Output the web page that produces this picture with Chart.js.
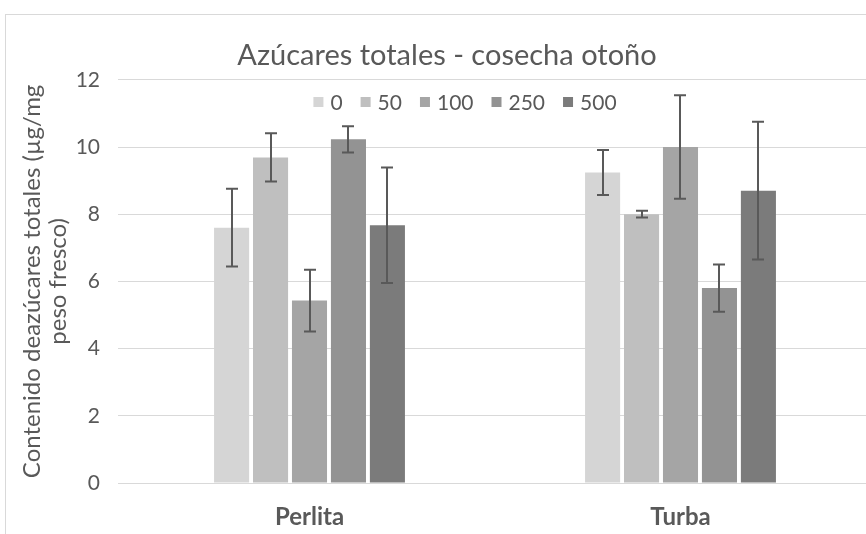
<!DOCTYPE html>
<html>
<head>
<meta charset="utf-8">
<script src="https://cdn.jsdelivr.net/npm/chart.js@4.4.1/dist/chart.umd.min.js"></script>
<style>
  html, body { margin: 0; padding: 0; background: #fff; overflow: hidden; }
  /* chart is a bit wider than the window; its right edge is cut off like the source */
  #wrap { width: 894px; height: 534px; position: relative; }
</style>
</head>
<body>
<div id="wrap"><canvas id="sugarChart"></canvas></div>
<script>
  'use strict';

  const categories = ['Perlita', 'Turba'];
  const seriesLabels = ['0', '50', '100', '250', '500'];
  const seriesColors = ['#d5d5d5', '#bfbfbf', '#a5a5a5', '#939393', '#7b7b7b'];

  const values0 = [7.6, 9.24];
  const values50 = [9.69, 8.0];
  const values100 = [5.43, 10.0];
  const values250 = [10.23, 5.8];
  const values500 = [7.67, 8.7];

  const errors0 = [1.16, 0.67];
  const errors50 = [0.72, 0.1];
  const errors100 = [0.92, 1.54];
  const errors250 = [0.39, 0.7];
  const errors500 = [1.72, 2.05];

  const yTicks = [0, 2, 4, 6, 8, 10, 12];

  const seriesValues = [values0, values50, values100, values250, values500];
  const seriesErrors = [errors0, errors50, errors100, errors250, errors500];

  const textColor = '#595959';
  const gridColor = '#d9d9d9';
  const fontFamily = "Lato, 'Open Sans', sans-serif";

  // white background + outer chart frame
  const framePlugin = {
    id: 'frame',
    beforeDraw(chart) {
      const ctx = chart.ctx;
      ctx.save();
      ctx.fillStyle = '#fff';
      ctx.fillRect(0, 0, chart.width, chart.height);
      ctx.strokeStyle = gridColor;
      ctx.lineWidth = 1;
      ctx.strokeRect(5.5, 14.5, chart.width + 20, chart.height + 20);
      ctx.restore();
    }
  };

  // error bars
  const errorBarPlugin = {
    id: 'errorBars',
    afterDatasetsDraw(chart) {
      const ctx = chart.ctx;
      const y = chart.scales.y;
      ctx.save();
      ctx.strokeStyle = '#595959';
      ctx.lineWidth = 2;
      chart.data.datasets.forEach((ds, i) => {
        const meta = chart.getDatasetMeta(i);
        meta.data.forEach((bar, j) => {
          const err = ds.errors[j];
          const top = y.getPixelForValue(ds.data[j] + err);
          const bottom = y.getPixelForValue(ds.data[j] - err);
          const x = Math.round(bar.x);
          ctx.beginPath();
          ctx.moveTo(x, top);
          ctx.lineTo(x, bottom);
          ctx.moveTo(x - 6, top);
          ctx.lineTo(x + 6, top);
          ctx.moveTo(x - 6, bottom);
          ctx.lineTo(x + 6, bottom);
          ctx.stroke();
        });
      });
      ctx.restore();
    }
  };

  // legend sits inside the plot area, near the top
  const innerLegendPlugin = {
    id: 'innerLegend',
    afterDraw(chart) {
      const ctx = chart.ctx;
      const box = 10, textGap = 7, itemGap = 18;
      ctx.save();
      ctx.font = '21px ' + fontFamily;
      ctx.textBaseline = 'middle';
      const items = chart.data.datasets.map(ds => ({
        label: ds.label,
        color: ds.backgroundColor,
        w: box + textGap + ctx.measureText(ds.label).width
      }));
      const total = items.reduce((s, it) => s + it.w, 0) + itemGap * (items.length - 1);
      let x = 465 - total / 2;
      const cy = 102;
      items.forEach(it => {
        ctx.fillStyle = it.color;
        ctx.fillRect(x, cy - box / 2, box, box);
        ctx.fillStyle = textColor;
        ctx.fillText(it.label, x + box + textGap, cy + 1);
        x += it.w + itemGap;
      });
      ctx.restore();
    }
  };

  const ctx = document.getElementById('sugarChart').getContext('2d');

  new Chart(ctx, {
    type: 'bar',
    data: {
      labels: categories,
      datasets: seriesLabels.map((label, i) => ({
        label: label,
        data: seriesValues[i],
        errors: seriesErrors[i],
        backgroundColor: seriesColors[i],
        borderWidth: 0,
        categoryPercentage: 0.525,
        barPercentage: 0.9
      }))
    },
    options: {
      responsive: true,
      maintainAspectRatio: false,
      animation: false,
      layout: { padding: 0 },
      plugins: {
        legend: { display: false },
        tooltip: { enabled: false },
        title: {
          display: true,
          text: 'Azúcares totales - cosecha otoño',
          color: textColor,
          font: { family: fontFamily, size: 29, weight: 'normal', lineHeight: 1.2 },
          padding: { top: 38, bottom: 7 }
        }
      },
      scales: {
        x: {
          grid: { display: false },
          border: { display: false },
          ticks: {
            color: textColor,
            padding: 12,
            font: { family: fontFamily, size: 24, weight: 'bold' }
          },
          afterFit(scale) { scale.height = 51; }
        },
        y: {
          min: 0,
          max: 12,
          afterBuildTicks(scale) {
            scale.ticks = yTicks.map(v => ({ value: v }));
          },
          grid: {
            color: gridColor,
            lineWidth: 1,
            drawTicks: true,
            tickLength: 6,
            tickColor: gridColor
          },
          border: { display: false },
          ticks: {
            color: textColor,
            padding: 18,
            font: { family: fontFamily, size: 21 }
          },
          title: {
            display: true,
            text: ['Contenido deazúcares totales (µg/mg', 'peso fresco)'],
            color: textColor,
            font: { family: fontFamily, size: 24, lineHeight: 1.05 },
            padding: { top: 20, bottom: 0 }
          },
          afterFit(scale) { scale.width = 124; }
        },
        // empty spacer on the right so the plot ends at the window edge
        spacer: {
          position: 'right',
          min: 0,
          max: 12,
          grid: { display: false },
          border: { display: false },
          ticks: { display: false },
          afterFit(scale) { scale.width = 28; }
        }
      }
    },
    plugins: [framePlugin, errorBarPlugin, innerLegendPlugin]
  });
</script>
</body>
</html>
